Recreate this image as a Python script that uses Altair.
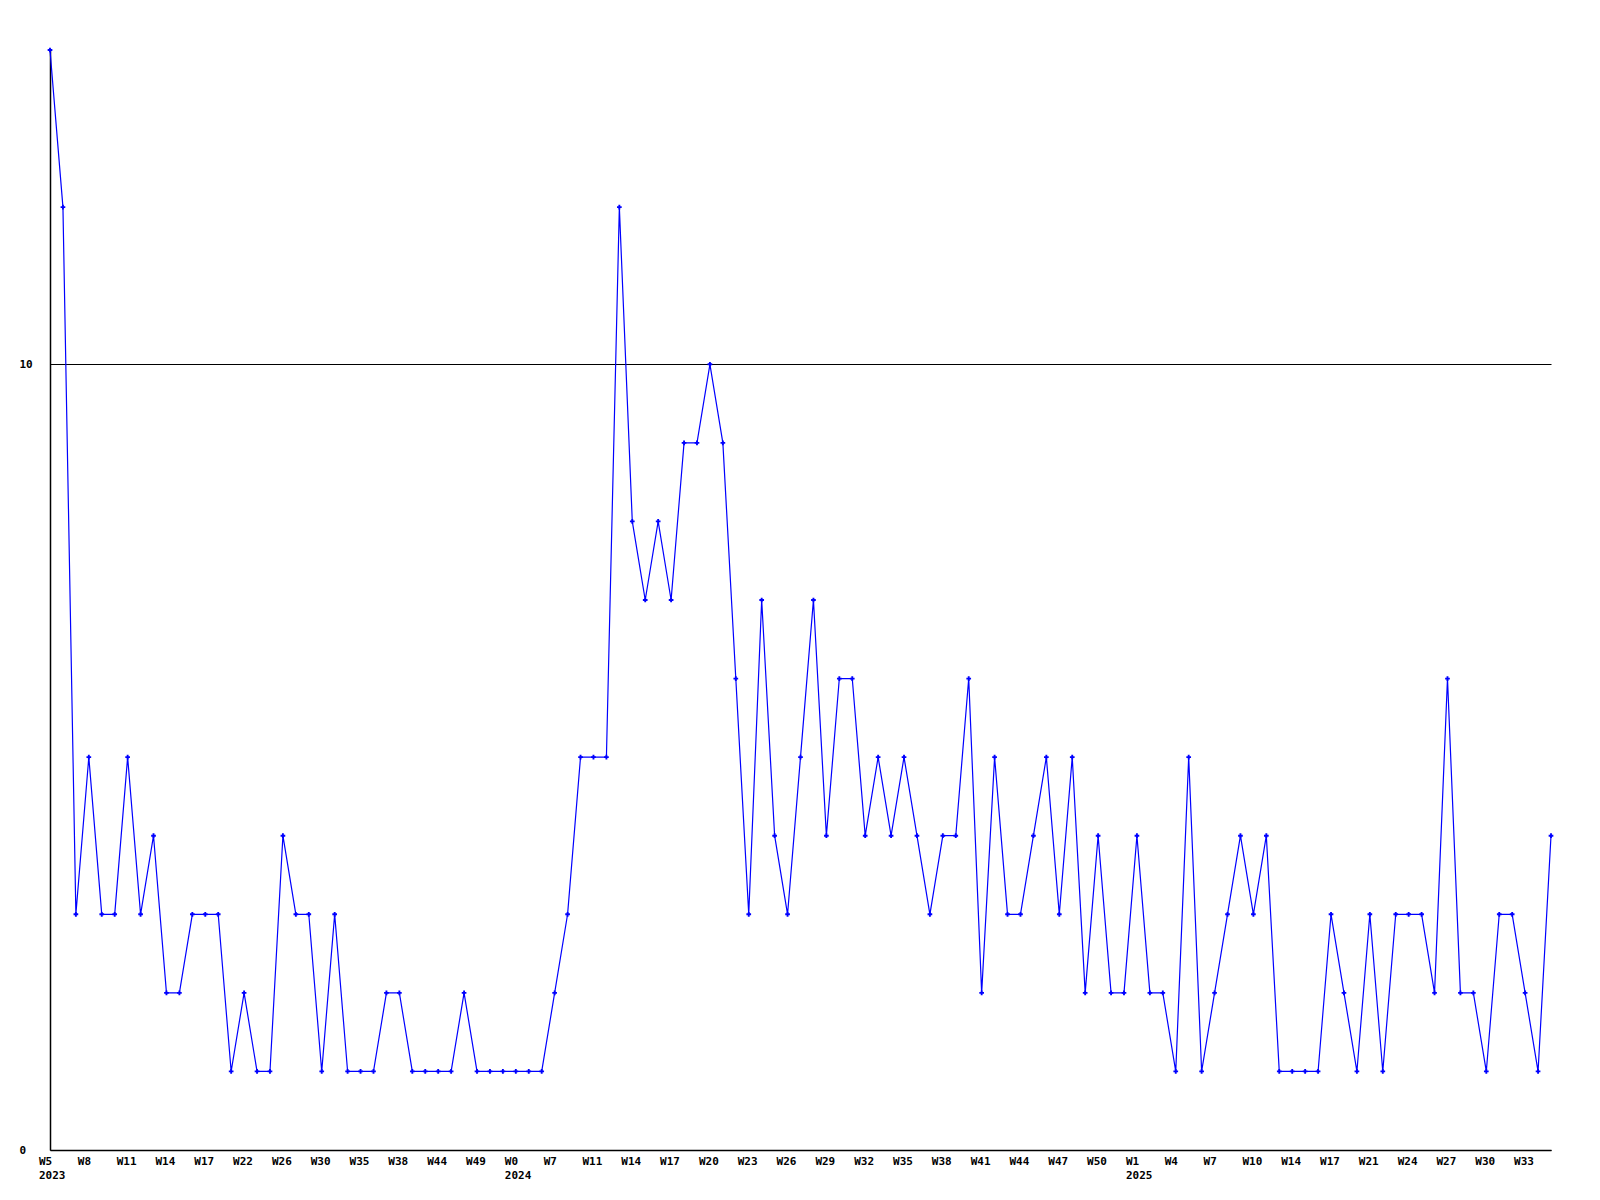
import altair as alt
import pandas as pd
import json

values = [14, 12, 3, 5, 3, 3, 5, 3, 4, 2, 2, 3, 3, 3, 1, 2, 1, 1, 4, 3,
          3, 1, 3, 1, 1, 1, 2, 2, 1, 1, 1, 1, 2, 1, 1, 1, 1, 1, 1, 2,
          3, 5, 5, 5, 12, 8, 7, 8, 7, 9, 9, 10, 9, 6, 3, 7, 4, 3, 5, 7,
          4, 6, 6, 4, 5, 4, 5, 4, 3, 4, 4, 6, 2, 5, 3, 3, 4, 5, 3, 5,
          2, 4, 2, 2, 4, 2, 2, 1, 5, 1, 2, 3, 4, 3, 4, 1, 1, 1, 1, 3,
          2, 1, 3, 1, 3, 3, 3, 2, 6, 2, 2, 1, 3, 3, 2, 1, 4]

week_labels = ["W5", "W8", "W11", "W14", "W17", "W22", "W26", "W30", "W35", "W38",
               "W44", "W49", "W0", "W7", "W11", "W14", "W17", "W20", "W23", "W26",
               "W29", "W32", "W35", "W38", "W41", "W44", "W47", "W50", "W1", "W4",
               "W7", "W10", "W14", "W17", "W21", "W24", "W27", "W30", "W33"]
year_labels = {0: "2023", 12: "2024", 28: "2025"}
label_step = 3

df = pd.DataFrame({"i": list(range(len(values))), "v": values})

tops = json.dumps(week_labels)
yrs = json.dumps([year_labels.get(k, "") for k in range(len(week_labels))])
label_expr = f"[{tops}[round(datum.value/{label_step})], {yrs}[round(datum.value/{label_step})]]"

FONT = "DejaVu Sans Mono"
n = len(values)

x = alt.X("i:Q",
          scale=alt.Scale(domain=[0, n - 1], nice=False, zero=False),
          axis=alt.Axis(values=list(range(0, len(week_labels) * label_step, label_step)),
                        labelExpr=label_expr, title=None, ticks=False, grid=False,
                        domainColor="black", domainWidth=1.5,
                        labelAlign="left", labelOffset=-11.5, labelBaseline="top",
                        labelPadding=5, labelLineHeight=14,
                        labelFont=FONT, labelFontWeight="bold", labelFontSize=11,
                        labelColor="black", labelOverlap=False, labelFlush=False,
                        labelBound=False))
y = alt.Y("v:Q",
          scale=alt.Scale(domain=[0, 14], nice=False),
          axis=alt.Axis(values=[0, 10], title=None, ticks=False, grid=True,
                        gridColor="black", gridWidth=1.2, gridOpacity=1,
                        domainColor="black", domainWidth=1.5,
                        labelAlign="left", labelPadding=31,
                        labelFont=FONT, labelFontWeight="bold", labelFontSize=11,
                        labelColor="black"))

line = alt.Chart(df).mark_line(color="#0000ff", strokeWidth=1.2).encode(x=x, y=y)
pts = alt.Chart(df).mark_point(color="#0000ff", shape="cross", filled=True,
                               size=22, opacity=1).encode(x=x, y=y)

chart = (line + pts).properties(
    width=1501, height=1100,
    autosize=alt.AutoSizeParams(type="none"),
    padding={"left": 42, "top": 42, "right": 40, "bottom": 42},
    background="white",
).configure_view(strokeWidth=0)

chart.save("out.html", embed_options={"renderer": "svg", "actions": False})
